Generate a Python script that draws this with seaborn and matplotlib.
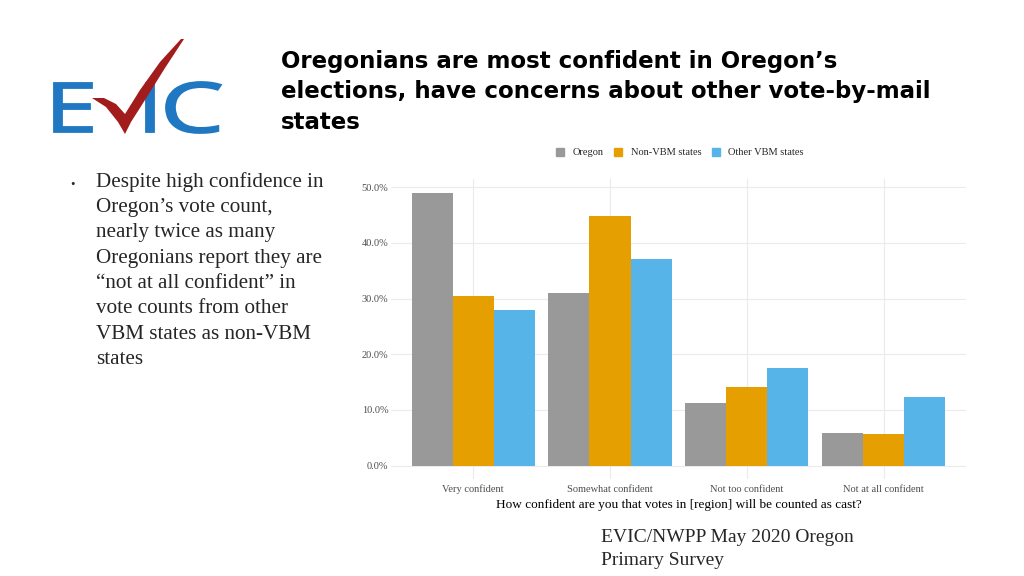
import pandas as pd
import seaborn as sns
import matplotlib.pyplot as plt
from matplotlib.patches import Polygon, PathPatch
from matplotlib.textpath import TextPath
from matplotlib.font_manager import FontProperties
from matplotlib.transforms import Affine2D
from matplotlib.ticker import FuncFormatter

categories = ["Very confident", "Somewhat confident", "Not too confident", "Not at all confident"]
regions = ["Oregon", "Non-VBM states", "Other VBM states"]
oregon = [49.0, 31.0, 11.2, 5.9]
non_vbm = [30.5, 44.9, 14.1, 5.7]
other_vbm = [27.9, 37.1, 17.6, 12.3]
colors = ["#999999", "#E69F00", "#56B4E9"]

df = pd.DataFrame({
    "category": categories * 3,
    "region": [r for r in regions for _ in categories],
    "pct": oregon + non_vbm + other_vbm,
})

sns.set_theme(style="whitegrid")
plt.rcParams["font.family"] = ["Liberation Serif", "DejaVu Serif"]

W, H = 1024, 576
fig = plt.figure(figsize=(W / 100, H / 100), dpi=100)
ax = fig.add_axes([0.382, 0.168, 0.561, 0.521])

sns.barplot(data=df, x="category", y="pct", hue="region", hue_order=regions,
            palette=colors, width=0.9, gap=0, saturation=1, linewidth=0,
            ax=ax, legend=False)

ax.set_xlim(-0.6, 3.6)
ax.set_ylim(-2.45, 51.45)
ax.set_yticks([0, 10, 20, 30, 40, 50])
ax.yaxis.set_major_formatter(FuncFormatter(lambda v, p: f"{v:.1f}%"))
ax.tick_params(axis="both", labelsize=7.5, colors="#4d4d4d", length=0, pad=2)
ax.tick_params(axis="x", pad=4)
ax.set_xlabel("How confident are you that votes in [region] will be counted as cast?",
              fontsize=9.5, color="black", labelpad=3)
ax.set_ylabel("")
ax.grid(color="#ebebeb", linewidth=0.8)
for s in ax.spines.values():
    s.set_visible(False)

# legend
handles = [plt.Rectangle((0, 0), 1, 1, color=c) for c in colors]
fig.legend(handles, regions, loc="center", bbox_to_anchor=(0.664, 0.735), ncol=3,
           frameon=False, fontsize=7.5, handlelength=0.8, handleheight=0.8,
           handletextpad=0.8, columnspacing=1.0)

# title
fig.text(0.274, 0.913,
         "Oregonians are most confident in Oregon\u2019s\nelections, have concerns about other vote-by-mail\nstates",
         fontsize=16.5, fontweight="bold", family=["DejaVu Sans"], va="top", ha="left",
         linespacing=1.41, color="black")

# bullet text
fig.text(0.069, 0.690, "\u2022", fontsize=9, va="top", ha="left")
fig.text(0.094, 0.702,
         "Despite high confidence in\nOregon\u2019s vote count,\nnearly twice as many\n"
         "Oregonians report they are\n\u201cnot at all confident\u201d in\nvote counts from other\n"
         "VBM states as non-VBM\nstates",
         fontsize=15.2, va="top", ha="left", linespacing=1.455)

fig.text(0.587, 0.082, "EVIC/NWPP May 2020 Oregon\nPrimary Survey",
         fontsize=14, va="top", ha="left", linespacing=1.46)


# logo: glyphs fitted to pixel boxes, thickened slightly with an outline
def glyph(ch, x0, y0, x1, y1, color):
    tp = TextPath((0, 0), ch, size=100, prop=FontProperties(family="Open Sans"))
    ext = tp.get_extents()
    sx = (x1 - x0) / ext.width
    sy = (y1 - y0) / ext.height
    tr = (Affine2D().translate(-ext.x0, -ext.y0).scale(sx, sy)
          .translate(x0, H - y1).scale(1 / W, 1 / H))
    fig.add_artist(PathPatch(tr.transform_path(tp), facecolor=color, edgecolor=color,
                             lw=1.3, transform=fig.transFigure))


blue = "#1f78c1"
glyph("E", 54, 83, 92, 132, blue)
glyph("I", 146, 83, 154, 132, blue)
glyph("C", 166, 82, 221, 133, blue)
check = [(92, 98), (104, 98), (116, 104), (125, 114), (140, 90), (160, 62), (181, 39),
         (184, 39), (165, 68), (145, 100), (131, 122), (125, 134), (118, 122), (106, 107)]
fig.add_artist(Polygon([(x / W, 1 - y / H) for x, y in check], closed=True,
                       transform=fig.transFigure, color="#a31c1c", lw=0))

fig.savefig("out.png", dpi=100)
